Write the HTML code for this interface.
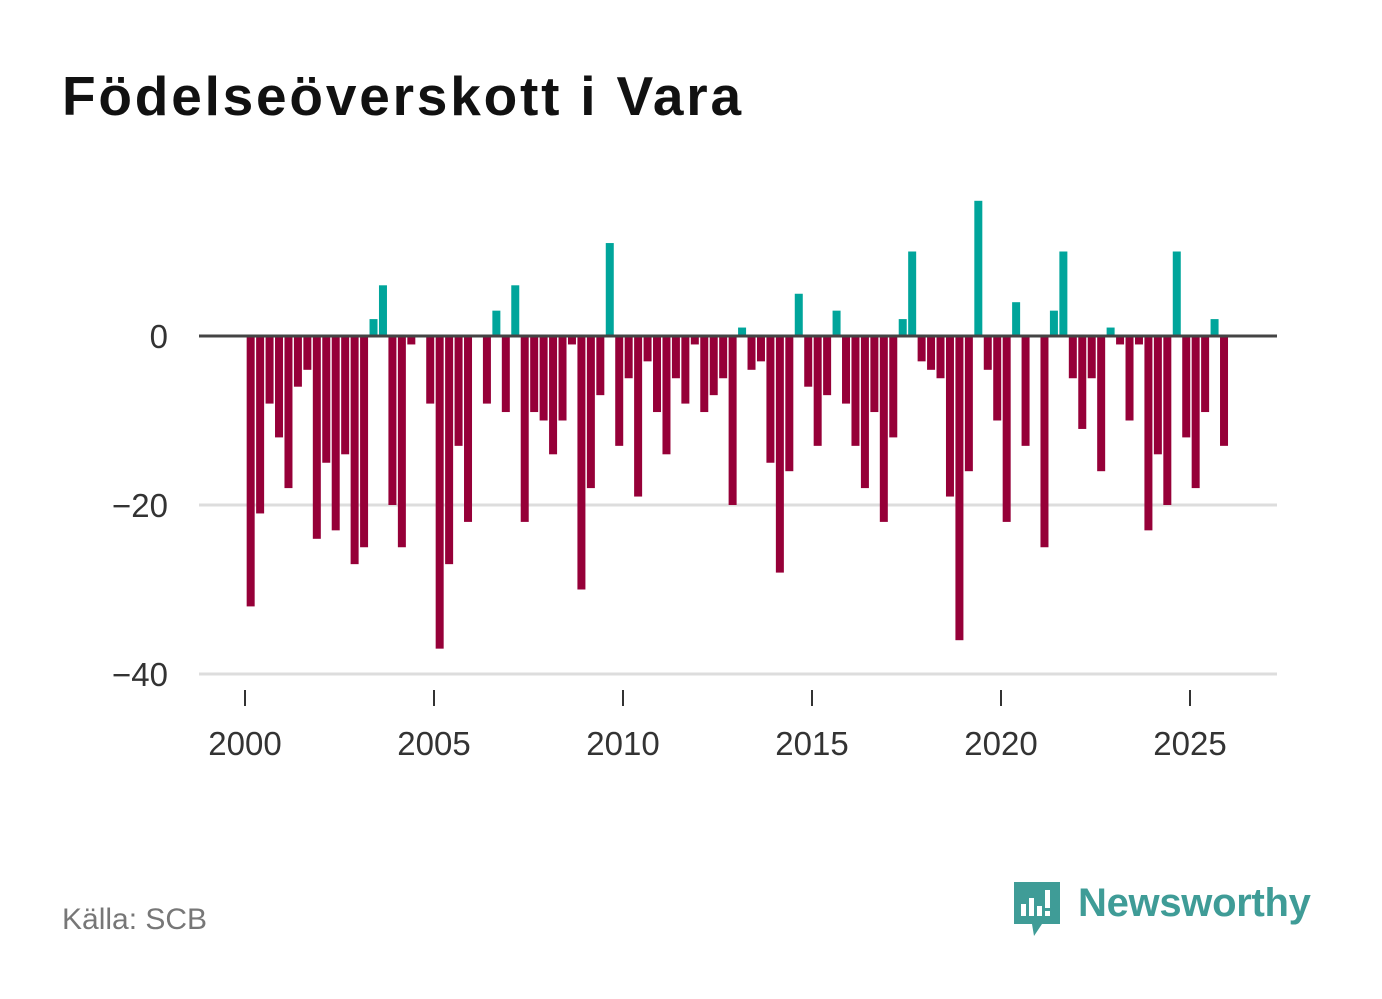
<!DOCTYPE html>
<html><head><meta charset="utf-8">
<style>
body{margin:0;background:#fff;width:1382px;height:999px;overflow:hidden;font-family:"Liberation Sans","DejaVu Sans",sans-serif;}
#title{position:absolute;left:62px;top:64px;font-size:55px;font-weight:bold;color:#111;margin:0;letter-spacing:2.8px}
#src{position:absolute;left:62px;top:903px;font-size:30px;color:#777}
svg{position:absolute;left:0;top:0}
</style></head><body>
<h1 id="title">Födelseöverskott i Vara</h1>
<svg id="chart" width="1382" height="999"></svg>
<div id="src">Källa: SCB</div>
<div style="position:absolute;left:1012px;top:878px;width:310px;height:62px">
<svg width="52" height="62" style="position:absolute;left:0;top:0">
<path d="M2 4 H48 V46 H30 L22 58 L20 46 H2 Z" fill="#3f9c97"/>
<rect x="9" y="26" width="5" height="12" fill="#fff"/><rect x="17" y="20" width="5" height="18" fill="#fff"/><rect x="25" y="28" width="5" height="10" fill="#fff"/><rect x="33" y="12" width="5" height="18" fill="#fff"/><rect x="33" y="33" width="5" height="5" fill="#fff"/>
</svg>
<span style="position:absolute;left:66px;top:3px;font-size:40px;font-weight:bold;color:#3f9c97;letter-spacing:-0.3px">Newsworthy</span>
</div>
<script>
const startYear = 2000;
const values = [-32,-21,-8,-12,-18,-6,-4,-24,-15,-23,-14,-27,-25,2,6,-20,-25,-1,0,-8,-37,-27,-13,-22,0,-8,3,-9,6,-22,-9,-10,-14,-10,-1,-30,-18,-7,11,-13,-5,-19,-3,-9,-14,-5,-8,-1,-9,-7,-5,-20,1,-4,-3,-15,-28,-16,5,-6,-13,-7,3,-8,-13,-18,-9,-22,-12,2,10,-3,-4,-5,-19,-36,-16,16,-4,-10,-22,4,-13,0,-25,3,10,-5,-11,-5,-16,1,-1,-10,-1,-23,-14,-20,10,-12,-18,-9,2,-13];
const yTicks = [0,-20,-40];
const yTickLabels = ["0","\u221220","\u221240"];
const xTicks = [2000,2005,2010,2015,2020,2025];

const NS="http://www.w3.org/2000/svg";
const svg=document.getElementById('chart');
const px0=245, pxPerYear=37.8, py0=336, pyPerUnit=8.45;
const xs=y=>px0+(y-startYear)*pxPerYear;
const ys=v=>py0-v*pyPerUnit;
function mk(t,a){const e=document.createElementNS(NS,t);for(const k in a)e.setAttribute(k,a[k]);svg.appendChild(e);return e;}

yTicks.forEach((t,i)=>{
  if(t!==0){
    const g=mk('line',{x1:199,x2:1277,y1:ys(t),y2:ys(t),stroke:'#dddddd','stroke-width':3});
    
    
  }
  const l=mk('text',{x:168,y:ys(t)+12,'text-anchor':'end','font-size':33,fill:'#333','font-family':'Liberation Sans, sans-serif'});
  l.textContent=yTickLabels[i];
  
  
});
xTicks.forEach(t=>{
  const tk=mk('line',{x1:xs(t),x2:xs(t),y1:690,y2:706,stroke:'#333','stroke-width':2});
  
  
  const l=mk('text',{x:xs(t),y:755,'text-anchor':'middle','font-size':33,fill:'#333','font-family':'Liberation Sans, sans-serif'});
  l.textContent=t;
  
  
});
values.forEach((v,i)=>{
  const cx=xs(startYear+(i+0.6)/4);
  const y1=ys(Math.max(v,0)), y2=ys(Math.min(v,0));
  const r=mk('rect',{x:cx-4,y:y1,width:8,height:Math.max(0,y2-y1),fill:v>=0?'#00a59b':'#960038'});
  
  
});
const z=mk('line',{x1:199,x2:1277,y1:ys(0),y2:ys(0),stroke:'#444','stroke-width':3});


</script>
</body></html>
